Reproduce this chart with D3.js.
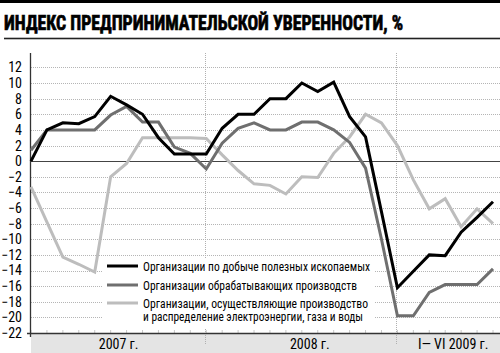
<!DOCTYPE html>
<html>
<head>
<meta charset="utf-8">
<script src="https://cdn.jsdelivr.net/npm/d3@7"></script>
<style>
  body { margin: 0; background: #fff; }
  svg { display: block; }
  text { font-family: "Liberation Sans Narrow", "Roboto Condensed", "Liberation Sans", Arial, sans-serif; }
</style>
</head>
<body>
<svg id="chart"></svg>
<script>
// months Jan 2007 .. Jun 2009
var months = ["2007-01","2007-02","2007-03","2007-04","2007-05","2007-06","2007-07","2007-08","2007-09","2007-10","2007-11","2007-12",
              "2008-01","2008-02","2008-03","2008-04","2008-05","2008-06","2008-07","2008-08","2008-09","2008-10","2008-11","2008-12",
              "2009-01","2009-02","2009-03","2009-04","2009-05","2009-06"];

// организации по добыче полезных ископаемых
var mining = [0, 4.0, 4.9, 4.8, 5.7, 8.3, 7.2, 6.0, 3.0, 0.9, 0.9, 0.9,
              4.2, 6.0, 6.0, 8.0, 8.0, 10.0, 8.9, 10.1, 5.7, 3.1, -6.5, -16.2,
              -14.1, -12.0, -12.1, -9.1, -7.2, -5.2];
// обрабатывающие производства
var manufacturing = [1.4, 4.0, 4.0, 4.0, 4.0, 5.9, 7.0, 5.0, 5.0, 1.8, 1.0, -1.0,
                     2.3, 4.2, 4.9, 4.0, 4.0, 5.0, 5.0, 4.0, 2.4, -0.9, -10.0, -19.8,
                     -19.8, -16.8, -15.8, -15.8, -15.8, -13.8];
// электроэнергия, газ, вода
var utilities = [-3.3, -7.8, -12.3, -13.2, -14.2, -2.0, -0.3, 3.0, 3.0, 3.0, 3.0, 2.9,
                 0.8, -1.2, -2.9, -3.1, -4.2, -2.0, -2.1, 1.0, 3.1, 6.0, 4.9, 2.0,
                 -2.4, -6.1, -4.8, -8.4, -6.1, -8.0];

var yTicks = [12, 10, 8, 6, 4, 2, 0, -2, -4, -6, -8, -10, -12, -14, -16, -18, -20, -22];
var yearLabels = ["2007 г.", "2008 г.", "I— VI 2009 г."];
var yearFirst = ["2007-01", "2008-01", "2009-01"];
var yearLast = ["2007-12", "2008-12", "2009-06"];
var seriesNames = ["Организации по добыче полезных ископаемых",
                   "Организации обрабатывающих производств",
                   "Организации, осуществляющие производство"];
var seriesColors = ["#000000", "#6f6f6f", "#bdbdbd"];

var width = 500, height = 353;

var svg = d3.select("#chart")
  .attr("width", width)
  .attr("height", height);

var x = d3.scalePoint()
    .domain(months)
    .range([31, 493]);

var y = d3.scaleLinear()
    .domain([-22, 12])
    .range([333, 67.4]);

// title block
svg.append("rect")
  .attr("x", 0).attr("y", 0)
  .attr("width", width).attr("height", 3)
  .attr("fill", "#000");

svg.append("text")
  .attr("x", 4)
  .attr("y", 30)
  .attr("textLength", 399)
  .attr("lengthAdjust", "spacingAndGlyphs")
  .style("font-size", "21px")
  .style("font-weight", "bold")
  .attr("stroke", "#000")
  .attr("stroke-width", 0.7)
  .text("ИНДЕКС ПРЕДПРИНИМАТЕЛЬСКОЙ УВЕРЕННОСТИ, %");

svg.append("rect")
  .attr("x", 4).attr("y", 37.7)
  .attr("width", width - 4).attr("height", 1.6)
  .attr("fill", "#222");

// bottom band
svg.append("rect")
  .attr("x", 31).attr("y", 334)
  .attr("width", width - 31).attr("height", height - 334)
  .attr("fill", "#e4e4e4");

// grid
svg.append("g")
  .selectAll("line")
  .data(yTicks.filter(function(d){ return d != 0 && d > -22; }))
  .enter()
  .append("line")
    .attr("x1", 31).attr("x2", width)
    .attr("y1", function(d){ return Math.round(y(d)) + 0.5; })
    .attr("y2", function(d){ return Math.round(y(d)) + 0.5; })
    .attr("stroke", "#b5b5b5")
    .attr("stroke-width", 1)
    .attr("stroke-dasharray", "1,1");

// year dividers
svg.append("g")
  .selectAll("line")
  .data(["2007-12", "2008-12"])
  .enter()
  .append("line")
    .attr("x1", function(d){ return Math.round(x(d)) - 0.5; })
    .attr("x2", function(d){ return Math.round(x(d)) - 0.5; })
    .attr("y1", 53).attr("y2", 345)
    .attr("stroke", "#b0b0b0")
    .attr("stroke-dasharray", "1,1");

// month ticks on the axis
svg.append("g")
  .selectAll("line")
  .data(months)
  .enter()
  .append("line")
    .attr("x1", function(d){ return x(d); })
    .attr("x2", function(d){ return x(d); })
    .attr("y1", 330).attr("y2", 333)
    .attr("stroke", "#c8c8c8");

// legend background
svg.append("rect")
  .attr("x", 103).attr("y", 258)
  .attr("width", 272).attr("height", 71)
  .attr("fill", "#fff");

// zero line
svg.append("line")
  .attr("x1", 31).attr("x2", width)
  .attr("y1", Math.round(y(0)) + 0.5).attr("y2", Math.round(y(0)) + 0.5)
  .attr("stroke", "#444")
  .attr("stroke-width", 1.2);

// axes
var yAxis = svg.append("g")
  .attr("transform", "translate(31,0)")
  .call(d3.axisLeft(y).tickValues(yTicks).tickSize(0).tickPadding(9)
        .tickFormat(function(d){ return d < 0 ? "\u2212" + Math.abs(d) : d; }));
yAxis.select(".domain").remove();
yAxis.selectAll("text")
  .style("font-size", "14px")
  .attr("fill", "#000");

svg.append("line")
  .attr("x1", 30.5).attr("x2", 30.5)
  .attr("y1", 53).attr("y2", 337)
  .attr("stroke", "#333")
  .attr("stroke-width", 1.3);

svg.append("line")
  .attr("x1", 27).attr("x2", width)
  .attr("y1", 333.5).attr("y2", 333.5)
  .attr("stroke", "#333")
  .attr("stroke-width", 1.5);

// year labels
svg.append("g")
  .selectAll("text")
  .data(yearLabels)
  .enter()
  .append("text")
    .attr("x", function(d, i){ return (x(yearFirst[i]) + x(yearLast[i])) / 2; })
    .attr("y", 349)
    .attr("text-anchor", "middle")
    .style("font-size", "14px")
    .text(function(d){ return d; });

// lines
var line = d3.line()
    .x(function(d, i){ return x(months[i]); })
    .y(function(d){ return y(d); });

var allSeries = [utilities, manufacturing, mining];
var allColors = [seriesColors[2], seriesColors[1], seriesColors[0]];

svg.append("g")
  .selectAll("path")
  .data(allSeries)
  .enter()
  .append("path")
    .attr("d", line)
    .attr("fill", "none")
    .attr("stroke", function(d, i){ return allColors[i]; })
    .attr("stroke-width", 3)
    .attr("stroke-linejoin", "miter");

// legend
var legend = svg.append("g");
var legendY = [266, 285, 303];
var legendLen = [227, 214, 225];

legend.selectAll("line")
  .data(seriesNames)
  .enter()
  .append("line")
    .attr("x1", 107).attr("x2", 138)
    .attr("y1", function(d, i){ return legendY[i]; })
    .attr("y2", function(d, i){ return legendY[i]; })
    .attr("stroke", function(d, i){ return seriesColors[i]; })
    .attr("stroke-width", 3);

legend.selectAll("text")
  .data(seriesNames)
  .enter()
  .append("text")
    .attr("x", 143)
    .attr("y", function(d, i){ return legendY[i] + 4.5; })
    .attr("textLength", function(d, i){ return legendLen[i]; })
    .attr("lengthAdjust", "spacingAndGlyphs")
    .style("font-size", "13px")
    .text(function(d){ return d; });

legend.append("text")
  .attr("x", 143)
  .attr("y", 321)
  .attr("textLength", 220)
  .attr("lengthAdjust", "spacingAndGlyphs")
  .style("font-size", "13px")
  .text("и распределение электроэнергии, газа и воды");
</script>
</body>
</html>
